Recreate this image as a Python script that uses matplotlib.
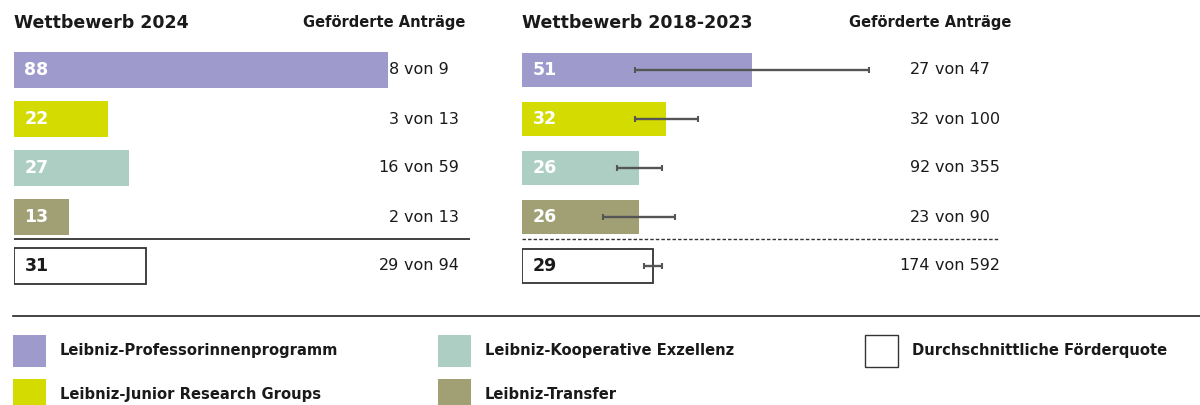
import matplotlib
matplotlib.use('Agg')
import matplotlib.pyplot as plt
from matplotlib.patches import Patch
from matplotlib.lines import Line2D
from matplotlib.transforms import blended_transform_factory

# Data
programs = ['Leibniz-Professorinnenprogramm', 'Leibniz-Junior Research Groups',
            'Leibniz-Kooperative Exzellenz', 'Leibniz-Transfer']
colors = ['#9e9acc', '#d4db00', '#adcec3', '#a0a074']

quote_2024 = [88, 22, 27, 13]
avg_2024 = 31
funded_2024 = [8, 3, 16, 2, 29]
applied_2024 = [9, 13, 59, 13, 94]

quote_1823 = [51, 32, 26, 26]
err_1823 = [26, 7, 5, 8]
avg_1823 = 29
avg_err_1823 = 2
funded_1823 = [27, 32, 92, 23, 174]
applied_1823 = [47, 100, 355, 90, 592]

avg_label = 'Durchschnittliche Förderquote'
header = 'Geförderte Anträge'

W, H = 1200, 405
fig = plt.figure(figsize=(W / 100, H / 100), dpi=100)
plt.rcParams['font.family'] = 'DejaVu Sans'
ink = '#1a1a1a'

top_px, bot_px = 45.5, 290.5


def panel(x0, x1, px_per_unit, title, values, avg, funded, applied,
          num_end, sep_style, hdr_x, errs=None, avg_err=None, bar_h=0.72):
    ax = fig.add_axes([x0 / W, 1 - bot_px / H, (x1 - x0) / W, (bot_px - top_px) / H])
    ax.set_xlim(0, (x1 - x0) / px_per_unit)
    ax.set_ylim(4.5, -0.5)
    ax.axis('off')
    rows = list(range(len(values)))
    ax.barh(rows, values, height=bar_h, color=colors)
    ax.barh([4], [avg], height=bar_h, color='white', edgecolor='#333333', linewidth=1.3)
    if errs is not None:
        ax.errorbar(values + [avg], rows + [4], xerr=errs + [avg_err], fmt='none',
                    ecolor='#555555', elinewidth=1.7, capsize=2.5, capthick=1.5)
    for i, v in enumerate(values + [avg]):
        ax.annotate(str(v), xy=(0, i), xytext=(7.5, 0), textcoords='offset points',
                    va='center', ha='left', fontsize=12.5, fontweight='bold',
                    color='white' if i < 4 else ink)
    tr = blended_transform_factory(ax.transAxes, ax.transData)
    gap = 5 / (x1 - x0)
    for i, (f, a) in enumerate(zip(funded, applied)):
        ax.text(num_end, i, str(f), transform=tr, ha='right', va='center',
                fontsize=11.5, color=ink)
        ax.text(num_end + gap, i, f'von {a}', transform=tr, ha='left', va='center',
                fontsize=11.5, color=ink)
    ax.axhline(3.45, color='#333333', lw=1.3 if sep_style == '-' else 1.0,
               linestyle=sep_style)
    ty = 1 + (top_px - 23) / (bot_px - top_px)
    ax.text(0, ty, title, transform=ax.transAxes, ha='left', va='center',
            fontsize=12.5, fontweight='bold', color=ink)
    ax.text(hdr_x, ty, header, transform=ax.transAxes, ha='center', va='center',
            fontsize=10.5, fontweight='bold', color=ink)
    return ax


panel(14, 470, 4.25, 'Wettbewerb 2024', quote_2024, avg_2024, funded_2024,
      applied_2024, (399 - 14) / 456, '-', (384 - 14) / 456)
panel(522, 1000, 4.5, 'Wettbewerb 2018-2023', quote_1823, avg_1823, funded_1823,
      applied_1823, (930 - 522) / 478, (0, (2.5, 1.5)), (930 - 522) / 478,
      errs=err_1823, avg_err=avg_err_1823, bar_h=0.68)

# rule above legend
fig.add_artist(Line2D([13 / W, 1], [1 - 316 / H] * 2, color='#222222', lw=1.2))

# legend in three groups
handles = [Patch(facecolor=c, edgecolor='none') for c in colors]
avg_handle = Patch(facecolor='white', edgecolor='#333333', linewidth=1.0)
groups = [([handles[0], handles[1]], programs[0:2], 13),
          ([handles[2], handles[3]], programs[2:4], 438),
          ([avg_handle], [avg_label], 865)]
for hs, labels, xpx in groups:
    leg = fig.legend(hs, labels, loc='upper left', bbox_to_anchor=(xpx / W, 1 - 335 / H),
                     frameon=False, borderpad=0, borderaxespad=0, handlelength=2.25,
                     handleheight=2.97, handletextpad=0.95, labelspacing=0.8,
                     prop={'weight': 'bold', 'size': 10.6})
    for t in leg.get_texts():
        t.set_color(ink)

fig.savefig('out.png', dpi=100, facecolor='white')
